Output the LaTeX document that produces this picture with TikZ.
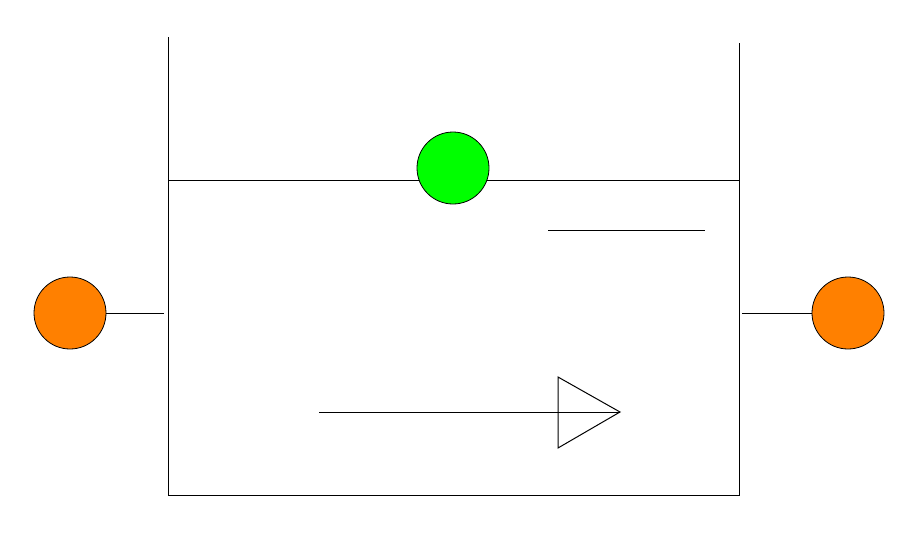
\documentclass[tikz,border=0pt]{standalone}
\usepackage{tikz}
\begin{document}
\begin{tikzpicture}[x=1pt,y=-1pt,line width=1pt,
  ball/.style={circle,draw=black,line width=0.8pt,minimum size=72pt,inner sep=0pt}]
\useasboundingbox (0,0) rectangle (914,547);
% container
\draw (168,37) -- (168,495) -- (739,495) -- (739,43);
% surface line
\coordinate (sl) at (168,180);
\coordinate (sr) at (739,180);
\draw (sl) -- (sr);
% short line
\coordinate (ha) at (548,230);
\coordinate (hb) at (705,230);
\draw (ha) -- (hb);
% green ball
\node[ball,fill={rgb,255:red,0;green,255;blue,0}] (g) at (453,168) {};
% orange balls
\node[ball,fill={rgb,255:red,255;green,128;blue,0}] (lo) at (70,313) {};
\node[ball,fill={rgb,255:red,255;green,128;blue,0}] (ro) at (848,313) {};
\coordinate (lw) at (164,313);
\coordinate (rw) at (742,313);
\draw (lo.east) -- (lw);
\draw (rw) -- (ro.west);
% arrow
\coordinate (as) at (319,412);
\coordinate (tip) at (620,412);
\coordinate (t1) at (558,377);
\coordinate (t2) at (558,448);
\draw (as) -- (tip);
\draw (t1) -- (tip) -- (t2) -- cycle;
\end{tikzpicture}
\end{document}
